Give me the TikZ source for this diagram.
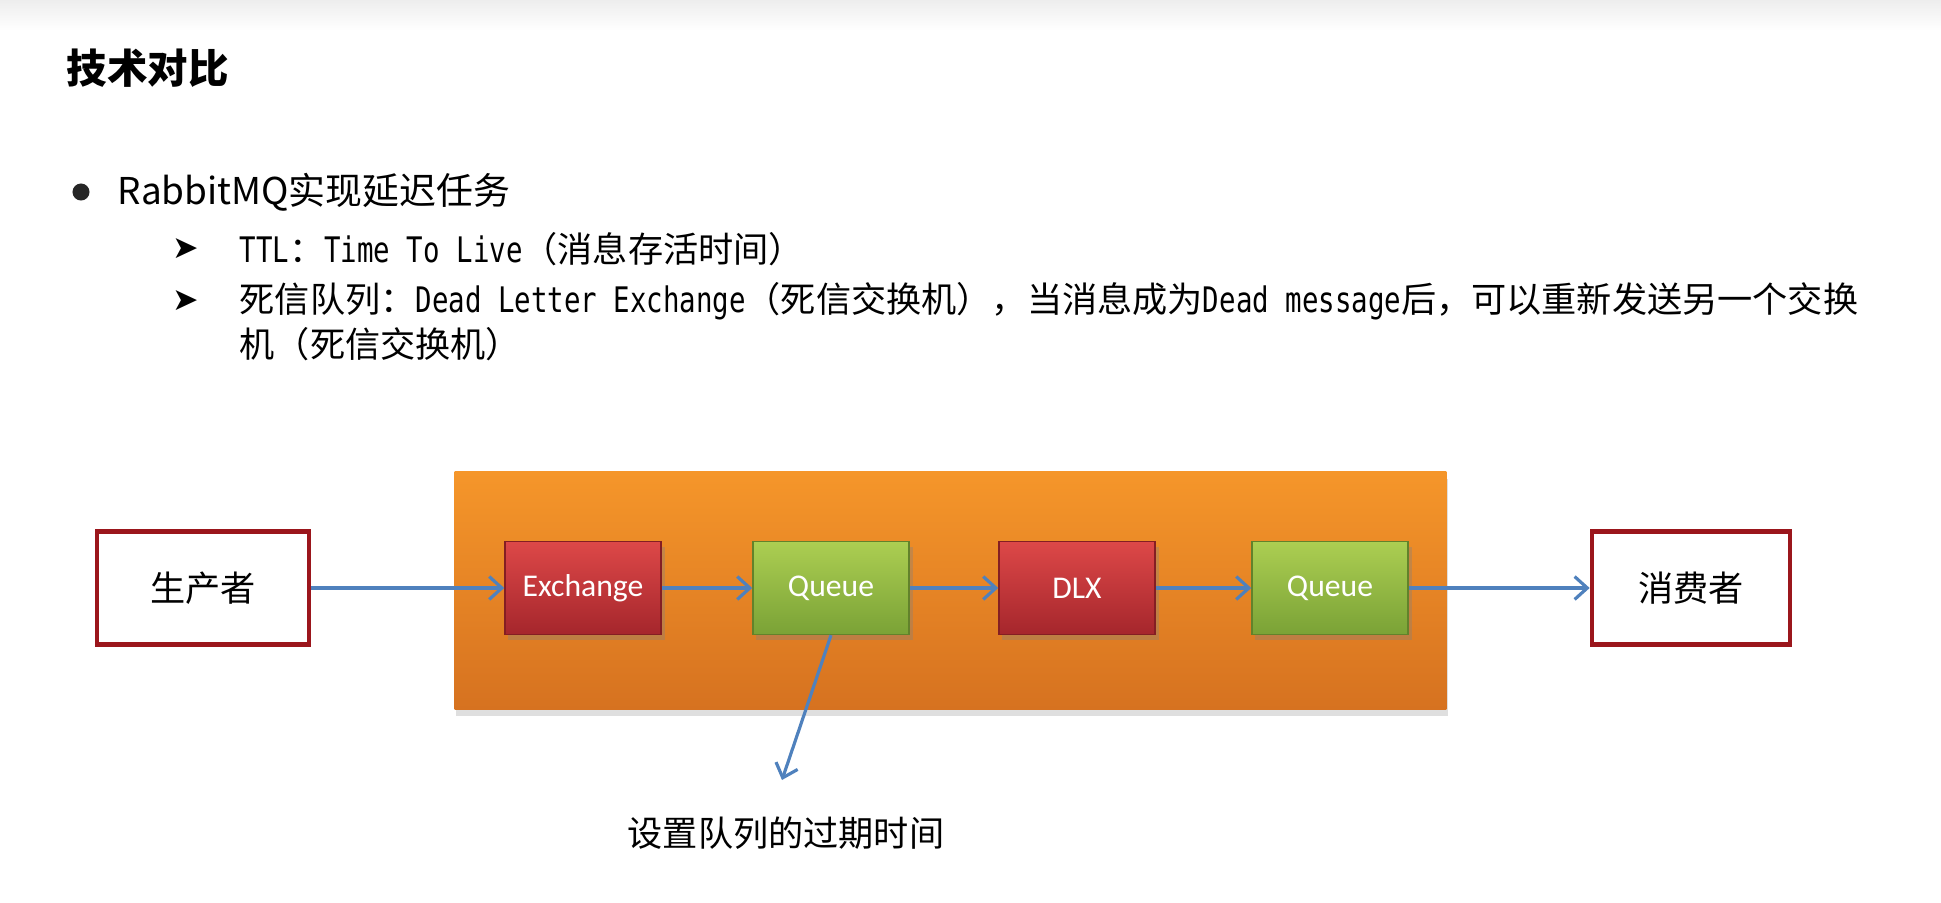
\documentclass[tikz,border=0pt]{standalone}
\usepackage{fontspec}
\setmainfont{Carlito}
\newfontfamily\cjk{Noto Sans CJK SC}
\newfontfamily\mono{DejaVu Sans Mono}[FakeStretch=0.78]
\newfontfamily\sym{DejaVu Sans}
\usetikzlibrary{arrows.meta,shadows}

\definecolor{flowblue}{RGB}{79,129,189}
\definecolor{stagetop}{RGB}{245,150,42}
\definecolor{stagebot}{RGB}{214,114,32}
\definecolor{exred}{RGB}{221,72,72}
\definecolor{exreddark}{RGB}{165,38,44}
\definecolor{qgreen}{RGB}{172,206,82}
\definecolor{qgreendark}{RGB}{122,162,54}
\definecolor{actorred}{RGB}{155,22,28}

\begin{document}
\begin{tikzpicture}[x=0.01cm, y=-0.01cm,
    flow/.style={draw=flowblue, line width=0.9pt, -{Straight Barb[length=3.6pt,width=6.5pt]}},
    redbox/.style={rectangle, minimum width=1.56cm, minimum height=0.93cm,
      top color=exred, bottom color=exreddark, draw=exreddark!80!black,
      text=white, font=\fontsize{9}{11}\selectfont,
      drop shadow={opacity=0.35, shadow xshift=1pt, shadow yshift=-1.5pt}},
    greenbox/.style={redbox, top color=qgreen, bottom color=qgreendark, draw=qgreendark!80!black},
    actor/.style={rectangle, draw=actorred, line width=1.3pt, fill=white,
      minimum height=1.13cm, font=\cjk\fontsize{10}{12}\selectfont},
    txt/.style={anchor=west, inner sep=0pt, font=\cjk\fontsize{10}{12}\selectfont}]
  \useasboundingbox (0,0) rectangle (1941,903);
  \fill[white] (0,0) rectangle (1941,903);
  \shade[top color=black!7, bottom color=white] (0,0) rectangle (1941,30);

  % heading and text
  \node[txt, font=\cjk\bfseries\fontsize{11.5}{14}\selectfont] (title) at (66,68) {技术对比};
  \node[circle, fill=black!85, inner sep=0pt, minimum size=0.17cm] (dot) at (81,192) {};
  \node[txt, font=\cjk\fontsize{10.5}{13}\selectfont] (rabbit) at (117,192) {RabbitMQ实现延迟任务};
  \node[font=\sym\fontsize{9}{11}\selectfont, inner sep=0pt] (tip1) at (186,249) {➤};
  \node[font=\sym\fontsize{9}{11}\selectfont, inner sep=0pt] (tip2) at (186,301) {➤};
  \node[txt] (ttl) at (239,249) {{\mono TTL}：{\mono Time To Live}（消息存活时间）};
  \node[txt] (dlxline) at (239,301) {死信队列：{\mono Dead Letter Exchange}（死信交换机），当消息成为{\mono Dead message}后，可以重新发送另一个交换};
  \node[txt] (dlxline2) at (239,344) {机（死信交换机）};

  % diagram
  \node[rectangle, minimum width=9.91cm, minimum height=2.37cm,
    top color=stagetop, bottom color=stagebot,
    drop shadow={opacity=0.25, shadow xshift=0.5pt, shadow yshift=-2pt}] (stage) at (950.5,590.5) {};
  \node[actor, minimum width=2.12cm] (prod) at (203,588) {生产者};
  \node[redbox] (ex) at (583,588) {Exchange};
  \node[greenbox] (q1) at (831,588) {Queue};
  \node[redbox] (dlx) at (1077,588) {DLX};
  \node[greenbox] (q2) at (1330,588) {Queue};
  \node[actor, minimum width=1.98cm] (cons) at (1691,588) {消费者};

  \draw[flow] (prod) -- (ex);
  \draw[flow] (ex) -- (q1);
  \draw[flow] (q1) -- (dlx);
  \draw[flow] (dlx) -- (q2);
  \draw[flow] (q2) -- (cons);

  \coordinate (ttlend) at (782,780);
  \draw[flow] (q1.south) -- (ttlend);
  \node[font=\cjk\fontsize{10}{12}\selectfont] (ttlnote) at (786,833) {设置队列的过期时间};
\end{tikzpicture}
\end{document}
